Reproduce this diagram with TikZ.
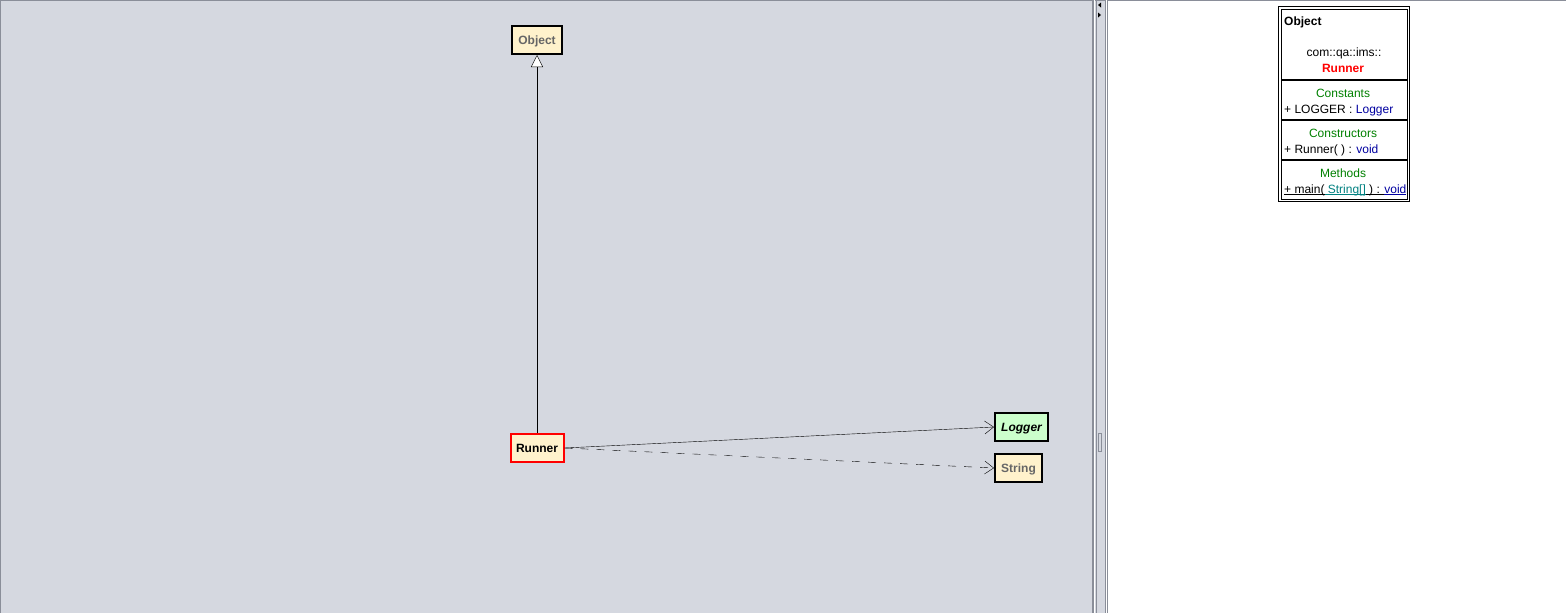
\documentclass[tikz,border=0pt]{standalone}
\usepackage{fontspec}
\setmainfont{Liberation Sans}
\usetikzlibrary{arrows.meta}
\definecolor{panelgray}{RGB}{213,216,224}
\definecolor{edgegray}{RGB}{138,142,153}
\definecolor{cream}{RGB}{255,242,204}
\definecolor{mint}{RGB}{204,255,204}
\definecolor{labelgray}{RGB}{102,102,102}
\definecolor{sectgreen}{RGB}{0,128,0}
\definecolor{typenavy}{RGB}{0,0,160}
\definecolor{argteal}{RGB}{0,128,128}
\newcommand{\ul}[1]{\underline{\smash{#1}}}
\begin{document}
\begin{tikzpicture}[x=1pt, y=-1pt,
    every node/.style={font=\fontsize{12}{14}\selectfont},
    classnode/.style={draw=black, line width=2pt, fill=cream, minimum height=28pt, inner sep=0pt, text height=9.5pt, text depth=0pt, font=\fontsize{12}{14}\selectfont\bfseries},
    sectname/.style={text=sectgreen, inner sep=0pt, anchor=base},
    member/.style={anchor=base west, inner sep=0pt},
    sepline/.style={line width=2pt},
    gen/.style={-{Triangle[open, length=12pt, width=12pt, fill=white]}},
    assoc/.style={-{Straight Barb[length=9pt, width=13pt]}},
    dep/.style={assoc, dash pattern=on 8pt off 8pt}]
    \useasboundingbox (0, 0) rectangle (1566, 613);
    \fill[panelgray] (0, 0) rectangle (1108, 613);
    \draw[edgegray] (0, 0.5) -- (1566, 0.5);
    \draw[edgegray] (0.5, 0) -- (0.5, 613);
    \draw[edgegray, line width=1.2pt] (1093, 0) -- (1093, 613);
    \draw[white] (1094.5, 0) -- (1094.5, 613);
    \draw[edgegray] (1096, 0) -- (1096, 613);
    \draw[edgegray] (1105.2, 0) -- (1105.2, 613);
    \draw[white] (1106.3, 0) -- (1106.3, 613);
    \draw[edgegray, line width=1.2pt] (1107.6, 0) -- (1107.6, 613);
    \fill[black] (1101, 2.5) -- (1098, 5) -- (1101, 7.5) -- cycle;
    \fill[black] (1098, 12.5) -- (1101, 15) -- (1098, 17.5) -- cycle;
    \draw[edgegray] (1098.5, 433) rectangle (1101, 451.5);

    \begin{scope}
      \node[classnode, minimum width=50pt, text=labelgray] (object) at (537, 40) {Object};
      \node[classnode, minimum width=53pt, draw=red] (runner) at (537, 448) {Runner};
      \node[classnode, minimum width=53pt, fill=mint, font=\fontsize{12}{14}\selectfont\bfseries\itshape] (logger) at (1021.5, 427) {Logger};
      \node[classnode, minimum width=47pt, text=labelgray] (string) at (1018.5, 468) {String};
      \draw[gen] (runner.north) -- (object.south);
      \draw[assoc] (runner.east) -- (logger.west);
      \draw[dep] (runner.east) -- (string.west);
    \end{scope}

    \begin{scope}
      \draw (1278.5, 6.5) rectangle (1409.5, 201.5);
      \draw (1281, 9) rectangle (1407, 199);
      \draw[sepline] (1281, 80) -- (1407, 80);
      \draw[sepline] (1281, 120) -- (1407, 120);
      \draw[sepline] (1281, 160) -- (1407, 160);
      \node[member, font=\fontsize{12}{14}\selectfont\bfseries] (hdr) at (1284, 25) {Object};
      \node[inner sep=0pt, anchor=base] (pkg) at (1344, 56.5) {com::qa::ims::};
      \node[inner sep=0pt, anchor=base, text=red, font=\fontsize{12}{14}\selectfont\bfseries] (cls) at (1343, 72.5) {Runner};
      \node[sectname] (consts) at (1343, 97) {Constants};
      \node[member] (logfield) at (1284, 113) {+ LOGGER : \textcolor{typenavy}{Logger}};
      \node[sectname] (ctors) at (1343, 137) {Constructors};
      \node[member] (ctor) at (1284, 153) {+ Runner( ) : \textcolor{typenavy}{void}};
      \node[sectname] (meths) at (1343, 177) {Methods};
      \node[member] (mainop) at (1284, 193) {\ul{+ main(}\textcolor{argteal}{\ul{ String[]}}\ul{ ) : }\textcolor{typenavy}{\ul{void}}};
    \end{scope}
  \end{tikzpicture}
\end{document}
